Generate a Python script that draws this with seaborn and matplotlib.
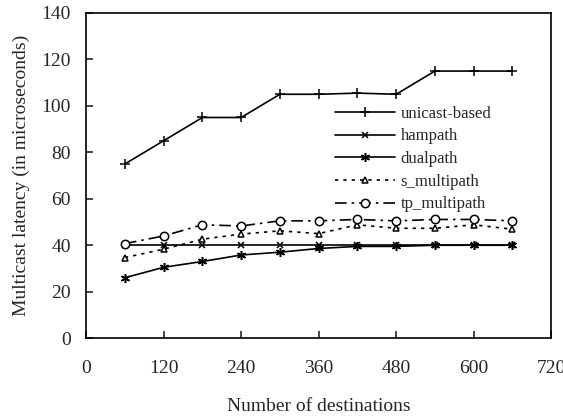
import matplotlib
matplotlib.use("Agg")
import matplotlib.pyplot as plt
import seaborn as sns
import pandas as pd

destinations = [60, 120, 180, 240, 300, 360, 420, 480, 540, 600, 660]
unicast_based = [75, 85, 95, 95, 105, 105, 105.5, 105, 115, 115, 115]
hampath = [40, 40, 40, 40, 40, 40, 40, 40, 40, 40, 40]
dualpath = [26, 30.5, 33, 35.8, 37, 38.6, 39.5, 39.5, 40, 40, 40]
s_multipath = [34.7, 38.3, 42.6, 44.8, 46.2, 45, 48.8, 47.3, 47.3, 48.8, 46.9]
tp_multipath = [40.7, 44, 48.8, 48.3, 50.5, 50.5, 51.1, 50.5, 51.1, 51.1, 50.5]

series_names = ["unicast-based", "hampath", "dualpath", "s_multipath", "tp_multipath"]
series_values = [unicast_based, hampath, dualpath, s_multipath, tp_multipath]

x_ticks = [0, 120, 240, 360, 480, 600, 720]
y_ticks = [0, 20, 40, 60, 80, 100, 120, 140]

sns.set_style("ticks")
plt.rcParams["font.family"] = ["Liberation Serif", "DejaVu Serif"]

fig = plt.figure(figsize=(5.63, 4.19), dpi=100)
ax = fig.add_axes([0.153, 0.193, 0.826, 0.776])

styles = [
    dict(marker="+", linestyle="-", markersize=7, mfc="black"),
    dict(marker="x", linestyle="-", markersize=5, mfc="black"),
    dict(marker=(6, 2, 0), linestyle="-", markersize=6.5, mfc="black"),
    dict(marker="^", linestyle=(0, (2, 3)), markersize=4.5, mfc="white"),
    dict(marker="o", linestyle=(0, (7, 3, 1.5, 3)), markersize=6, mfc="white"),
]

for name, vals, st in zip(series_names, series_values, styles):
    df = pd.DataFrame({"x": destinations, "y": vals})
    sns.lineplot(data=df, x="x", y="y", ax=ax, color="black", linewidth=1.2,
                 marker=st["marker"], linestyle=st["linestyle"],
                 markersize=st["markersize"], markerfacecolor=st["mfc"],
                 markeredgecolor="black", markeredgewidth=1.1, label=name)

ax.set_xlim(0, 720)
ax.set_ylim(0, 140)
ax.set_xticks(x_ticks)
ax.set_yticks(y_ticks)
ax.tick_params(axis="x", direction="in", length=5, width=1.2, pad=16, labelsize=14, top=False)
ax.tick_params(axis="y", direction="in", length=5, width=1.2, pad=11, labelsize=14, right=False)
for sp in ax.spines.values():
    sp.set_visible(True)
    sp.set_color("black")
    sp.set_linewidth(1.2)

ax.set_xlabel("Number of destinations", fontsize=14, labelpad=15)
ax.set_ylabel("Multicast latency (in microseconds)", fontsize=14, labelpad=8)

leg = ax.legend(loc="upper left", bbox_to_anchor=(0.52, 0.735), frameon=False,
                fontsize=12, handlelength=3.6, handletextpad=0.35,
                labelspacing=0.4, borderaxespad=0)

fig.savefig("out.png", dpi=100)
